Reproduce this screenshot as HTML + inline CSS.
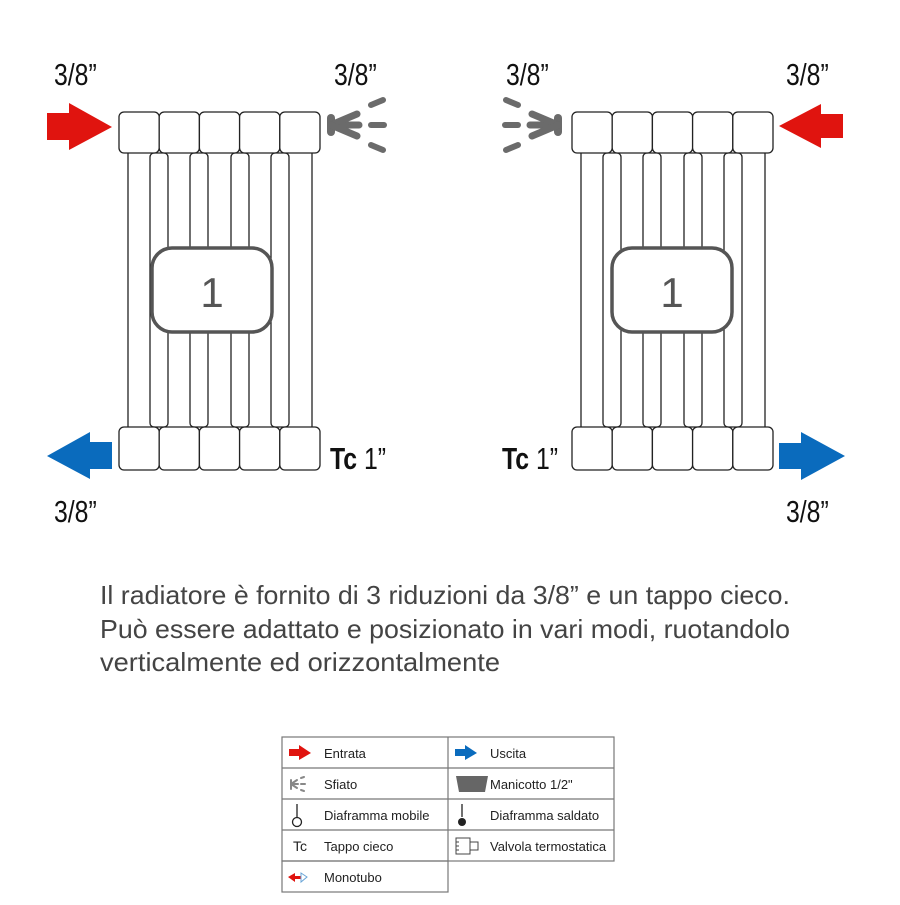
<!DOCTYPE html>
<html><head><meta charset="utf-8"><style>
body{margin:0;background:#fff;width:900px;height:900px;overflow:hidden;font-family:"Liberation Sans",sans-serif}
</style></head><body>
<svg width="900" height="900" viewBox="0 0 900 900" xmlns="http://www.w3.org/2000/svg">
<defs>
<g id="rad" fill="#fff" stroke="#222" stroke-width="1.3">
  <rect x="9" y="150" width="184" height="280"/>
  <rect x="31" y="153" width="18" height="274" rx="4"/>
  <rect x="71" y="153" width="18" height="274" rx="4"/>
  <rect x="112" y="153" width="18" height="274" rx="4"/>
  <rect x="152" y="153" width="18" height="274" rx="4"/>
  <rect x="0" y="112" width="40.2" height="41" rx="5"/>
  <rect x="40.2" y="112" width="40.2" height="41" rx="5"/>
  <rect x="80.4" y="112" width="40.2" height="41" rx="5"/>
  <rect x="120.6" y="112" width="40.2" height="41" rx="5"/>
  <rect x="160.8" y="112" width="40.2" height="41" rx="5"/>
  <rect x="0" y="427" width="40.2" height="43" rx="5"/>
  <rect x="40.2" y="427" width="40.2" height="43" rx="5"/>
  <rect x="80.4" y="427" width="40.2" height="43" rx="5"/>
  <rect x="120.6" y="427" width="40.2" height="43" rx="5"/>
  <rect x="160.8" y="427" width="40.2" height="43" rx="5"/>
</g>
<g id="vent" fill="none" stroke="#6b6b6b" stroke-linecap="round">
  <line x1="0" y1="-7" x2="0" y2="7" stroke-width="8"/>
  <line x1="0" y1="0" x2="28" y2="0" stroke-width="7"/>
  <line x1="0" y1="0" x2="26" y2="-11" stroke-width="7"/>
  <line x1="0" y1="0" x2="26" y2="11" stroke-width="7"/>
  <line x1="40" y1="-20" x2="52" y2="-25" stroke-width="6"/>
  <line x1="40" y1="0" x2="53" y2="0" stroke-width="6"/>
  <line x1="40" y1="20" x2="52" y2="25" stroke-width="6"/>
</g>
</defs>

<use href="#rad" x="119" y="0"/>
<use href="#rad" x="572" y="0"/>
<rect x="152" y="248" width="120" height="84" rx="20" fill="#fff" stroke="#555" stroke-width="3.5"/>
<text x="212" y="307" font-size="42" fill="#555" text-anchor="middle">1</text>
<rect x="612" y="248" width="120" height="84" rx="20" fill="#fff" stroke="#555" stroke-width="3.5"/>
<text x="672" y="307" font-size="42" fill="#555" text-anchor="middle">1</text>

<polygon points="47,113 69,113 69,103 112,127 69,150 69,140 47,140" fill="#e0140f"/>
<polygon points="112,442 90,442 90,432 47,456 90,479 90,469 112,469" fill="#0a6bbd"/>
<polygon points="843,114 821,114 821,104 779,126 821,148 821,138 843,138" fill="#e0140f"/>
<polygon points="779,443 801,443 801,432 845,456 801,480 801,469 779,469" fill="#0a6bbd"/>

<use href="#vent" transform="translate(331,125)"/>
<use href="#vent" transform="translate(558,125) scale(-1,1)"/>

<g font-size="31" fill="#111" font-family="Liberation Sans, sans-serif">
<text transform="translate(54,85) scale(0.8,1)">3/8”</text>
<text transform="translate(334,85) scale(0.8,1)">3/8”</text>
<text transform="translate(506,85) scale(0.8,1)">3/8”</text>
<text transform="translate(786,85) scale(0.8,1)">3/8”</text>
<text transform="translate(54,522) scale(0.8,1)">3/8”</text>
<text transform="translate(786,522) scale(0.8,1)">3/8”</text>
<text transform="translate(330,469) scale(0.8,1)"><tspan font-weight="bold">Tc</tspan> 1”</text>
<text transform="translate(502,469) scale(0.8,1)"><tspan font-weight="bold">Tc</tspan> 1”</text>
</g>

<g font-size="26" fill="#444">
<text x="100" y="604" textLength="690" lengthAdjust="spacingAndGlyphs">Il radiatore è fornito di 3 riduzioni da 3/8” e un tappo cieco.</text>
<text x="100" y="638" textLength="690" lengthAdjust="spacingAndGlyphs">Può essere adattato e posizionato in vari modi, ruotandolo</text>
<text x="100" y="671" textLength="400" lengthAdjust="spacingAndGlyphs">verticalmente ed orizzontalmente</text>
</g>

<g stroke="#777" stroke-width="1.2" fill="none">
<rect x="282" y="737" width="332" height="124"/>
<rect x="282" y="861" width="166" height="31"/>
<line x1="448" y1="737" x2="448" y2="861"/>
<line x1="282" y1="768" x2="614" y2="768"/>
<line x1="282" y1="799" x2="614" y2="799"/>
<line x1="282" y1="830" x2="614" y2="830"/>
</g>
<g font-size="13" fill="#222">
<text x="324" y="758">Entrata</text>
<text x="324" y="789">Sfiato</text>
<text x="324" y="820">Diaframma mobile</text>
<text x="324" y="851">Tappo cieco</text>
<text x="324" y="882">Monotubo</text>
<text x="490" y="758">Uscita</text>
<text x="490" y="789">Manicotto 1/2"</text>
<text x="490" y="820">Diaframma saldato</text>
<text x="490" y="851">Valvola termostatica</text>
<text x="293" y="851" font-size="14">Tc</text>
</g>
<polygon points="289,749 299,749 299,745 311,753 299,760 299,756 289,756" fill="#e0140f"/>
<polygon points="455,749 465,749 465,745 477,753 465,760 465,756 455,756" fill="#0a6bbd"/>
<g stroke="#888" stroke-width="2" stroke-linecap="round">
<line x1="291" y1="780" x2="291" y2="789"/><line x1="291" y1="784" x2="298" y2="784"/>
<line x1="291" y1="784" x2="297" y2="780"/><line x1="291" y1="784" x2="297" y2="788"/>
<line x1="301" y1="778" x2="304" y2="777"/><line x1="301" y1="784" x2="305" y2="784"/><line x1="301" y1="790" x2="304" y2="791"/>
</g>
<path d="M456,776 L488,776 L485,792 L459,792 Z" fill="#666"/>
<line x1="297" y1="804" x2="297" y2="817" stroke="#222" stroke-width="1.3"/>
<circle cx="297" cy="822" r="4.5" fill="#fff" stroke="#222" stroke-width="1.3"/>
<line x1="462" y1="804" x2="462" y2="817" stroke="#222" stroke-width="1.3"/>
<circle cx="462" cy="822" r="4" fill="#222"/>
<g stroke="#444" stroke-width="1" fill="none">
<rect x="456" y="838" width="14" height="16"/><rect x="470" y="842" width="8" height="8"/>
<line x1="456" y1="842" x2="459" y2="842"/><line x1="456" y1="846" x2="459" y2="846"/><line x1="456" y1="850" x2="459" y2="850"/>
</g>
<polygon points="288,877 295,873 295,876 301,876 301,879 295,879 295,882" fill="#e0140f"/>
<polygon points="301,873 307,877 301,882" fill="#fff" stroke="#6aa6d8" stroke-width="1"/>
</svg>
</body></html>
